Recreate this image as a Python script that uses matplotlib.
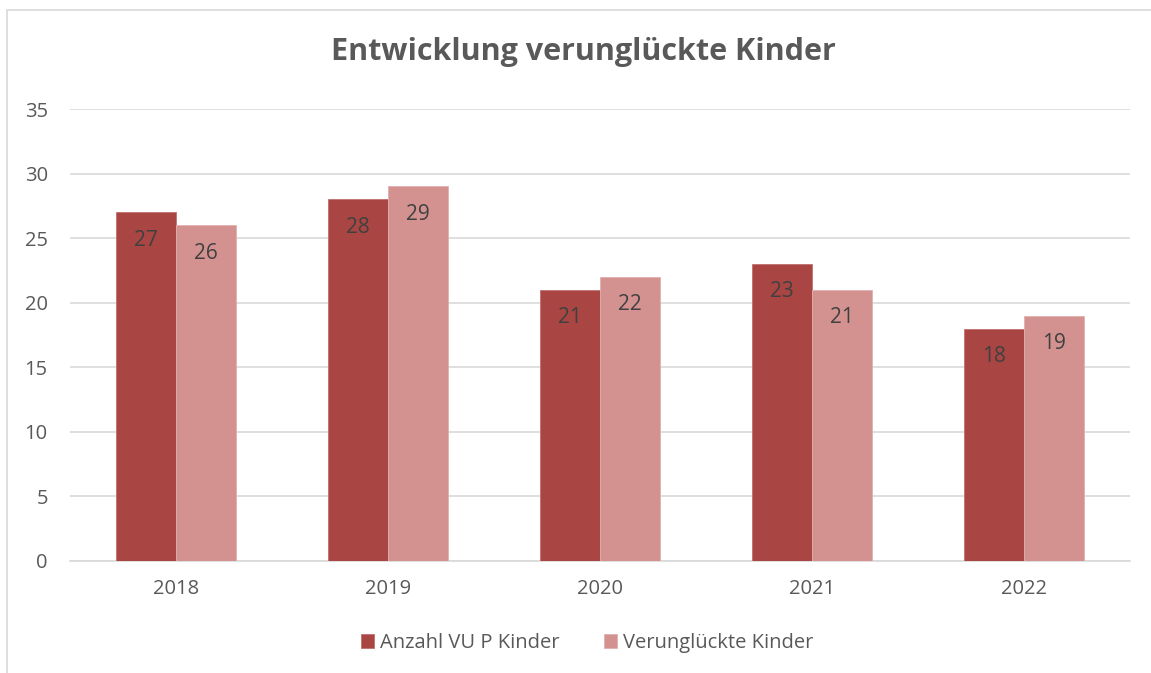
import numpy as np
import matplotlib
matplotlib.use('Agg')
import matplotlib.pyplot as plt
from matplotlib.patches import Rectangle

# data
years = ['2018', '2019', '2020', '2021', '2022']
anzahl_vu = [27, 28, 21, 23, 18]
verunglueckte = [26, 29, 22, 21, 19]

dark = '#A94543'
light = '#D39290'
grey = '#595959'

plt.rcParams['font.family'] = ['Open Sans', 'DejaVu Sans']

W, H = 1151, 673
fig = plt.figure(figsize=(W / 100, H / 100), dpi=100)

# chart frame (only left/top visible in reference)
fig.patches.append(Rectangle((7 / W, -0.1), 1.2, 1 - 10 / H + 0.1,
                             transform=fig.transFigure, fill=False,
                             edgecolor='#D9D9D9', linewidth=1.2))

ax = fig.add_axes([70 / W, 1 - 561 / H, (1130 - 70) / W, (561 - 109) / H])

x = np.arange(len(years))
w = 0.283
b1 = ax.bar(x - w / 2, anzahl_vu, w, color=dark, edgecolor='#C07070', linewidth=0.6,
            label='Anzahl VU P Kinder', zorder=3)
b2 = ax.bar(x + w / 2, verunglueckte, w, color=light, edgecolor='#E0B0AE', linewidth=0.6,
            label='Verunglückte Kinder', zorder=3)

for bars in (b1, b2):
    for r in bars:
        ax.annotate(f'{int(r.get_height())}', (r.get_x() + r.get_width() / 2, r.get_height()),
                    xytext=(0, -20), textcoords='offset points', ha='center', va='center',
                    fontsize=15, color='#404040', zorder=4)

ax.set_xlim(-0.5, len(years) - 0.5)
ax.set_ylim(0, 35)
ax.set_yticks(range(0, 36, 5))
ax.set_xticks(x)
ax.set_xticklabels(years)
ax.yaxis.grid(True, color='#D9D9D9', linewidth=1.2, zorder=0)
for s in ['top', 'right', 'left']:
    ax.spines[s].set_visible(False)
ax.spines['bottom'].set_color('#D9D9D9')
ax.spines['bottom'].set_linewidth(1.2)
ax.tick_params(axis='both', length=0, labelsize=14.5, labelcolor=grey)
ax.tick_params(axis='x', pad=13)
ax.tick_params(axis='y', pad=16)

fig.text(583 / W, 1 - 52 / H, 'Entwicklung verunglückte Kinder', ha='center', va='center',
         fontsize=22, fontweight='bold', color=grey)

fig.legend(handles=[b1, b2], loc='center', bbox_to_anchor=(587 / W, 1 - 643 / H), ncol=2,
           frameon=False, fontsize=14.5, labelcolor=grey, handlelength=0.65, handleheight=0.65,
           handletextpad=0.3, columnspacing=2.2)

fig.savefig('out.png', dpi=100, facecolor='white')
